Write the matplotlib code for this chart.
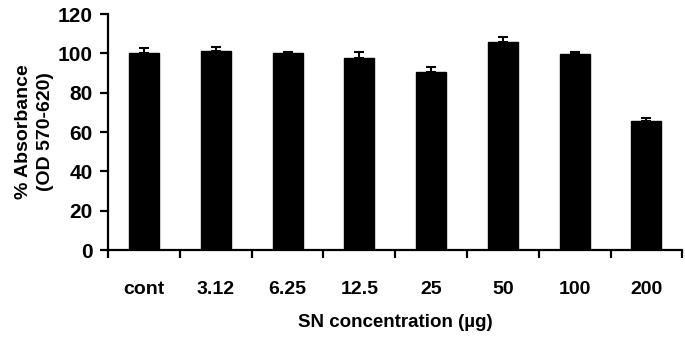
import matplotlib
matplotlib.use("Agg")
import matplotlib.pyplot as plt
import numpy as np

categories = ["cont", "3.12", "6.25", "12.5", "25", "50", "100", "200"]
absorbance = [100.0, 101.3, 100.0, 97.4, 90.3, 105.9, 99.5, 65.4]
err_upper = [2.6, 1.7, 0.5, 3.1, 3.0, 2.6, 1.0, 1.9]

plt.rcParams["font.family"] = ["Liberation Sans", "DejaVu Sans"]
plt.rcParams["font.weight"] = "bold"

fig = plt.figure(figsize=(6.85, 3.42), dpi=100)
ax = fig.add_axes([0.158, 0.269, 0.838, 0.69])

x = np.arange(len(categories))
ax.bar(x, absorbance, width=0.42, color="black", edgecolor="black", zorder=2)
ax.errorbar(x, absorbance, yerr=[np.zeros(len(x)), err_upper], fmt="none",
            ecolor="black", elinewidth=1.5, capsize=3.6, capthick=1.5, zorder=1)

ax.set_xlim(-0.5, len(categories) - 0.5)
ax.set_ylim(0, 120)
ax.set_yticks(np.arange(0, 121, 20))
ax.set_xticks(np.arange(-0.5, len(categories), 1.0))
ax.set_xticklabels([])
ax.set_xticks(x, minor=True)
ax.set_xticklabels(categories, minor=True, fontsize=14, fontweight="bold")
ax.tick_params(axis="x", which="minor", length=0, pad=22)
ax.tick_params(axis="x", which="major", length=6, width=1.6, direction="out")
ax.tick_params(axis="y", length=6, width=1.6, labelsize=15, pad=5)

for side in ["top", "right"]:
    ax.spines[side].set_visible(False)
for side in ["left", "bottom"]:
    ax.spines[side].set_linewidth(1.6)

ax.set_ylabel("% Absorbance\n(OD 570-620)", fontsize=14, fontweight="bold",
              labelpad=3, linespacing=1.35)
ax.set_xlabel("SN concentration (\u00b5g)", fontsize=13.5, fontweight="bold", labelpad=12)

fig.savefig("out.png", dpi=100)
